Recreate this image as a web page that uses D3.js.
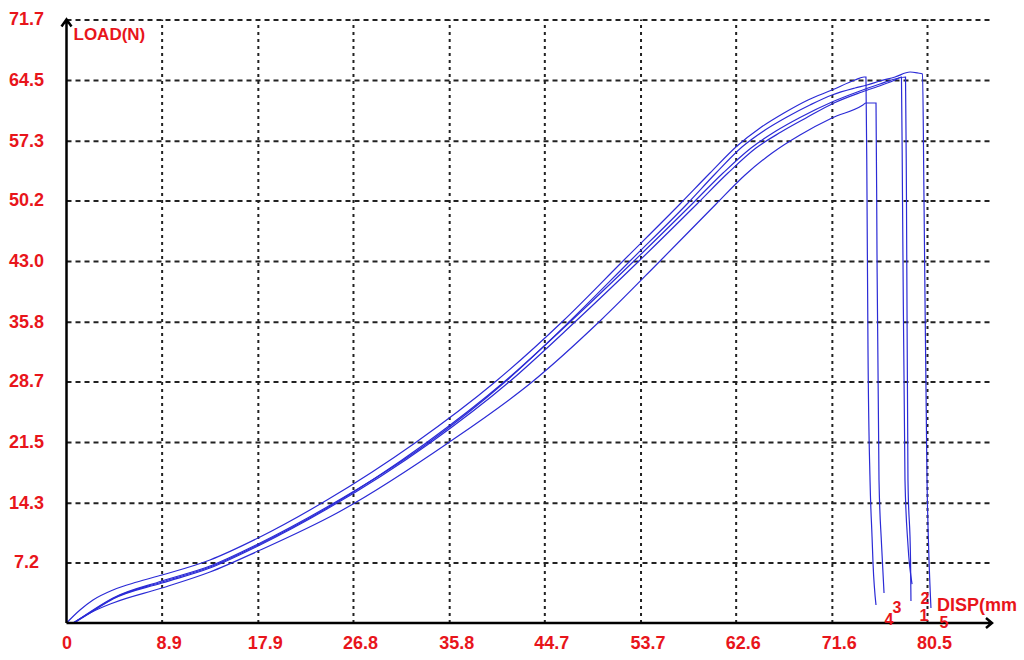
<!DOCTYPE html>
<html>
<head>
<meta charset="utf-8">
<script src="https://cdn.jsdelivr.net/npm/d3@7"></script>
<style>
  body { margin: 0; background: #fff; }
  svg { display: block; }
</style>
</head>
<body>
<div id="chart"></div>
<script>
const xTicks = [0, 8.9, 17.9, 26.8, 35.8, 44.7, 53.7, 62.6, 71.6, 80.5];
const yTicks = [7.2, 14.3, 21.5, 28.7, 35.8, 43.0, 50.2, 57.3, 64.5, 71.7];
const specimens = ["1", "2", "3", "4", "5"];

// [disp (mm), load (N)]
const curve1 = [[0.61,0],[2.20,1.25],[4.35,2.91],[8.93,4.87],[13.42,6.65],[17.92,9.27],[24.37,13.66],[33.63,21.39],[40.93,28.63],[47.20,35.88],[53.09,43.01],[58.52,49.78],[61.42,53.46],[64.04,56.43],[66.37,58.45],[68.71,60.12],[71.61,61.90],[74.23,63.21],[76.10,64.04],[77.51,64.63],[78.49,64.87],[78.58,50.26],[78.72,16.99],[78.96,7.49],[79.00,2.61]];
const curve2 = [[0.70,0],[2.20,1.19],[4.35,2.85],[8.93,4.75],[13.42,6.53],[17.92,9.15],[24.37,13.54],[34.01,21.39],[41.40,28.63],[47.66,35.88],[53.56,43.01],[58.98,49.78],[61.88,53.46],[64.50,56.43],[66.84,58.33],[69.18,60.00],[71.80,61.78],[74.42,63.09],[76.29,63.92],[77.51,64.51],[78.11,64.87],[78.21,50.26],[78.44,16.99],[78.72,9.27],[79.10,4.63]];
const curve3 = [[0.61,0],[2.20,1.19],[4.35,2.38],[8.93,4.16],[13.42,6.06],[17.92,8.55],[25.31,13.07],[35.69,21.39],[43.55,28.63],[49.91,35.88],[55.53,43.01],[60.77,49.78],[63.48,53.23],[66.01,55.84],[68.62,57.98],[71.61,60.00],[74.51,61.54],[74.79,61.78],[75.73,61.78],[75.82,44.32],[76.01,16.99],[76.24,9.51],[76.48,3.56]];
const curve4 = [[0,0],[1.26,1.54],[2.48,2.73],[4.35,3.92],[6.60,4.87],[8.93,5.70],[13.42,7.49],[17.92,10.10],[24.37,14.61],[32.60,21.39],[40.09,28.63],[46.45,35.88],[52.06,43.01],[57.39,49.78],[60.20,53.46],[62.73,56.67],[64.88,58.81],[67.12,60.59],[69.37,62.14],[71.61,63.32],[73.76,64.51],[74.61,64.87],[74.79,64.87],[74.89,50.26],[74.98,32.43],[75.17,16.99],[75.36,10.22],[75.45,7.13],[75.73,2.14]];
const curve5 = [[0.70,0],[2.20,1.31],[4.35,2.97],[8.93,4.99],[13.42,6.77],[17.92,9.39],[24.37,13.78],[33.82,21.39],[41.02,28.63],[47.10,35.88],[52.72,43.01],[58.05,49.78],[60.76,53.46],[63.19,56.55],[65.35,58.57],[67.40,60.12],[69.55,61.54],[71.61,62.73],[73.76,63.56],[74.89,63.92],[76.10,64.39],[77.51,64.87],[78.91,65.46],[79.66,65.34],[80.08,65.23],[80.22,50.26],[80.50,16.99],[80.69,7.49],[80.87,1.78]];

const curves = [curve1, curve2, curve3, curve4, curve5];

const width = 1024, height = 660;
const red = "#e8151b", blue = "#2b2bd6";
const font = "'Liberation Sans', Arial, sans-serif";

const svg = d3.select("#chart").append("svg")
  .attr("width", width)
  .attr("height", height);

svg.append("rect").attr("width", width).attr("height", height).attr("fill", "#fff");

const x = d3.scaleLinear().domain([0, 80.5]).range([66.5, 927]);
const y = d3.scaleLinear().domain([0, 71.7]).range([623, 19.5]);
const xEnd = 992;

// grid
const gx = svg.append("g")
  .attr("transform", `translate(0,${y(0)})`)
  .call(d3.axisBottom(x).tickValues(xTicks.slice(1)).tickSize(-(y(0) - y(71.7))).tickFormat(""));
gx.select(".domain").remove();
gx.selectAll("line")
  .attr("stroke", "#222")
  .attr("stroke-width", 2)
  .attr("stroke-dasharray", "3,4");

const gy = svg.append("g")
  .attr("transform", `translate(${x(0)},0)`)
  .call(d3.axisLeft(y).tickValues(yTicks).tickSize(-(xEnd - 2 - x(0))).tickFormat(""));
gy.select(".domain").remove();
gy.selectAll("line")
  .attr("stroke", "#222")
  .attr("stroke-width", 2)
  .attr("stroke-dasharray", "5,4");

// tick labels
const lx = svg.append("g")
  .attr("transform", `translate(0,${y(0)})`)
  .call(d3.axisBottom(x).tickValues(xTicks).tickSize(0)
    .tickFormat(d => d === 0 ? "0" : d.toFixed(1)));
lx.select(".domain").remove();
lx.selectAll("text")
  .attr("y", 26)
  .attr("dy", 0)
  .attr("dx", d => d === 0 ? 0 : 7)
  .attr("fill", red)
  .attr("font-family", font)
  .attr("font-weight", "bold")
  .attr("font-size", 18);

const ly = svg.append("g")
  .attr("transform", `translate(${x(0) - 40},0)`)
  .call(d3.axisLeft(y).tickValues(yTicks).tickSize(0).tickFormat(d => d.toFixed(1)));
ly.select(".domain").remove();
ly.selectAll("text")
  .attr("x", 0)
  .attr("dy", "0.3em")
  .attr("text-anchor", "middle")
  .attr("fill", red)
  .attr("font-family", font)
  .attr("font-weight", "bold")
  .attr("font-size", 18);

// curves
const line = d3.line()
  .x(d => x(d[0]))
  .y(d => y(d[1]))
  .curve(d3.curveMonotoneX);

svg.append("g").selectAll("path")
  .data(curves)
  .join("path")
  .attr("d", line)
  .attr("fill", "none")
  .attr("stroke", blue)
  .attr("stroke-width", 1.2);

// axes with arrows
const x0 = x(0), y0 = y(0), yTop = y(71.7);
svg.append("path")
  .attr("d", `M${x0},${y0}L${x0},${yTop}M${x0 - 5},${yTop + 7}L${x0},${yTop}L${x0 + 5},${yTop + 7}`)
  .attr("fill", "none").attr("stroke", "#000").attr("stroke-width", 2.5);
svg.append("path")
  .attr("d", `M${x0},${y0}L${xEnd},${y0}M${xEnd - 6},${y0 - 5}L${xEnd},${y0}L${xEnd - 6},${y0 + 5}`)
  .attr("fill", "none").attr("stroke", "#000").attr("stroke-width", 2.5);

// axis titles
svg.append("text")
  .attr("x", x0 + 7).attr("y", yTop + 20)
  .attr("fill", red).attr("font-family", font).attr("font-weight", "bold").attr("font-size", 17)
  .text("LOAD(N)");
svg.append("text")
  .attr("x", x(80.5) + 10).attr("y", y0 - 12)
  .attr("fill", red).attr("font-family", font).attr("font-weight", "bold").attr("font-size", 18)
  .text("DISP(mm");

// specimen numbers at curve ends
svg.append("g").selectAll("text")
  .data(curves)
  .join("text")
  .attr("x", d => x(d[d.length - 1][0]) + 13)
  .attr("y", d => y(d[d.length - 1][1]) + 14)
  .attr("dy", "0.35em")
  .attr("text-anchor", "middle")
  .attr("fill", red).attr("font-family", font).attr("font-weight", "bold").attr("font-size", 16)
  .text((d, i) => specimens[i]);
</script>
</body>
</html>
